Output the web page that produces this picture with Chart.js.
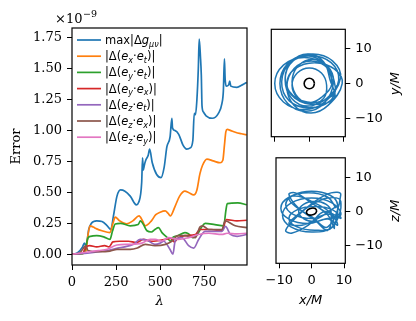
<!DOCTYPE html>
<html>
<head>
<meta charset="utf-8">
<script src="https://cdn.jsdelivr.net/npm/chart.js@4.4.0/dist/chart.umd.min.js"></script>
<style>
html, body { margin: 0; padding: 0; background: #fff; }
#wrap { position: relative; width: 416px; height: 321px; overflow: hidden; }
canvas { position: absolute; }
</style>
</head>
<body>
<div id="wrap">
  <canvas id="graficaError" width="260" height="321" style="left:0;top:0"></canvas>
  <canvas id="graficaXY" width="156" height="150" style="left:260px;top:0"></canvas>
  <canvas id="graficaXZ" width="156" height="176" style="left:260px;top:145px"></canvas>
</div>
<script>
// errors, in units of 1e-9, each series with its own lambda samples
const lamG = [0,30,60,70,80,95,110,140,170,200,220,235,255,275,300,330,365,378,395,400,404,410,418,432,440,455,480,505,522,538,556,566,570,585,605,630,650,670,685,693,700,708,716,721,728,733,737,745,760,795,830,850,858,864,868,874,888,894,900,935,965,990];
const errG = [0,0.01,0.06,0.09,0.07,0.2,0.25,0.27,0.265,0.23,0.2,0.31,0.47,0.52,0.51,0.47,0.40,0.42,0.58,0.78,0.68,0.72,0.76,0.80,0.85,0.74,0.645,0.62,0.70,0.87,0.95,1.10,1.02,1.0,0.97,0.88,0.85,0.86,0.92,1.14,1.13,1.25,1.50,1.74,1.60,1.45,1.20,1.15,1.12,1.10,1.14,1.22,1.32,1.58,1.42,1.36,1.37,1.40,1.36,1.35,1.37,1.39];

const lamA = [0,60,80,90,102,120,140,170,215,232,245,270,310,345,380,400,415,450,475,500,528,545,557,585,610,640,660,690,708,725,740,765,800,840,855,864,872,880,900,930,960,990];
const errA = [0,0.005,0.03,0.15,0.23,0.22,0.205,0.19,0.175,0.25,0.30,0.27,0.245,0.27,0.31,0.27,0.23,0.27,0.32,0.34,0.35,0.33,0.31,0.39,0.47,0.51,0.50,0.48,0.52,0.65,0.72,0.77,0.755,0.74,0.76,0.88,0.99,1.01,1.0,0.985,0.975,0.965];

const lamB = [0,60,75,90,105,140,180,215,230,245,275,330,375,388,405,425,450,470,490,510,540,557,575,600,640,660,685,710,735,755,810,860,872,880,940,990];
const errB = [0,0.005,0.04,0.13,0.145,0.15,0.14,0.12,0.19,0.245,0.25,0.23,0.24,0.27,0.24,0.19,0.18,0.20,0.215,0.175,0.135,0.105,0.14,0.15,0.175,0.165,0.135,0.16,0.22,0.25,0.24,0.23,0.35,0.41,0.415,0.40];

const lamC = [0,60,80,100,140,185,210,232,270,320,365,405,450,475,530,560,580,600,640,700,725,790,850,875,935,990];
const errC = [0,0.01,0.06,0.07,0.06,0.07,0.06,0.10,0.105,0.105,0.094,0.12,0.105,0.107,0.12,0.13,0.10,0.13,0.15,0.16,0.20,0.20,0.19,0.28,0.27,0.275];

const lamE = [0,100,200,260,300,348,386,424,470,500,520,555,572,585,623,661,690,718,755,850,870,898,936,990];
const errE = [0,0.01,0.03,0.05,0.06,0.08,0.12,0.115,0.08,0.09,0.105,0.04,0.0,0.11,0.135,0.07,0.05,0.12,0.185,0.185,0.225,0.16,0.145,0.16];

const lamD = [0,45,70,78,90,150,215,255,330,370,415,470,530,566,600,640,700,725,740,775,850,868,925,990];
const errD = [0,0.013,0.06,0.07,0.03,0.02,0.025,0.04,0.04,0.05,0.08,0.07,0.08,0.105,0.15,0.15,0.135,0.22,0.23,0.20,0.20,0.27,0.23,0.215];

const lamF = [0,100,150,200,254,330,396,443,472,509,547,604,661,718,775,850,879,935,990];
const errF = [0,0.02,0.03,0.04,0.075,0.08,0.09,0.12,0.12,0.107,0.135,0.12,0.135,0.16,0.17,0.16,0.17,0.165,0.17];

const errXTicks = [0, 250, 500, 750];
const errYTicks = [0, 0.25, 0.5, 0.75, 1.0, 1.25, 1.5, 1.75];
const orbitTicks = [-10, 0, 10];

// orbit, x/M and y/M
const orbitXY = [
  [7,0],[4.5,5.3],[-1.5,7.5],[-7.5,5.3],[-10,0],[-7.5,-5.3],[-1.5,-7.5],[4.5,-5.3],
  [9,1.5],[6.7,6.5],[1,8.5],[-4.7,6.5],[-7,1.5],[-4.7,-3.5],[1,-5.5],[6.7,-3.5],
  [7.5,-1],[5.4,4.3],[0.5,6.5],[-4.4,4.3],[-6.5,-1],[-4.4,-6.3],[0.5,-8.5],[5.4,-6.3],
  [9.5,0],[7.2,4.2],[1.5,6],[-4.2,4.2],[-6.5,0],[-4.2,-4.2],[1.5,-6],[7.2,-4.2],
  [6,1],[4.1,6.3],[-0.5,8.5],[-5.1,6.3],[-7,1],[-5.1,-4.3],[-0.5,-6.5],[4.1,-4.3],
  [5,-0.5],[3.5,3],[0,4.5],[-3.5,3],[-5,-0.5],[-3.5,-4],[0,-5.5],[3.5,-4],
  [6.5,0],[4.3,5.7],[-1,8],[-6.3,5.7],[-8.5,0],[-6.3,-5.7],[-1,-8],[4.3,-5.7],
  [7,0.5],[5.2,5.1],[1,7],[-3.2,5.1],[-5,0.5],[-3.2,-4.1],[1,-6],[5.2,-4.1],
  [8.5,1],[6.3,6],[0.5,8],[-5.5,6],[-8,0.5],[-5.8,-5],[0,-7],[6,-5],[8,-0.5]
];
// orbit, x/M and z/M
const orbitXZ = [
  [7.5,1],[5,4.2],[-1,5.5],[-7,4.2],[-9.5,1],[-7,-2.2],[-1,-3.5],[5,-2.2],
  [8,-4],[6,-0.5],[1,2.5],[-4,4.5],[-7,4],[-5,1.5],[0,-1.5],[5,-4.5],
  [9,5],[6,5.5],[1,3],[-4,-1],[-8,-5.5],[-6,-6.3],[-1,-4],[4,0],
  [9,-2],[6.5,0.5],[1,1.5],[-4.5,0.5],[-7,-2],[-4.5,-4.5],[1,-5.5],[6.5,-4.5],
  [8,2],[5.7,4.8],[0,6],[-5.7,4.8],[-8,2],[-5.7,-0.8],[0,-2],[5.7,-0.8],
  [7,-5],[5,-1],[0,2.5],[-5,5.5],[-7,5],[-4,1],[1,-2.5],[5,-5.5],
  [6,0],[4.5,2.1],[1,3],[-2.5,2.1],[-4,0],[-2.5,-2.1],[1,-3],[4.5,-2.1],
  [9,-1],[6.4,2.5],[0,4],[-6.4,2.5],[-9,-1],[-6.4,-4.5],[0,-6],[6.4,-4.5],
  [9,3],[5,4],[0,2],[-5,-1.5],[-7,-3.5],[-3,-4],[2,-2],[6,0.5],[8.5,2]
];
const ringXY = [[1.5,0],[1.06,1.06],[0,1.5],[-1.06,1.06],[-1.5,0],[-1.06,-1.06],[0,-1.5],[1.06,-1.06],[1.5,0]];
const ringXZ = [[1.6,0.2],[1.1,0.9],[0,1],[-1.1,0.6],[-1.6,-0.2],[-1.1,-0.9],[0,-1],[1.1,-0.6],[1.6,0.2]];

const colores = ['#1f77b4','#ff7f0e','#2ca02c','#d62728','#9467bd','#8c564b','#e377c2'];
const series = [[lamG,errG],[lamA,errA],[lamB,errB],[lamC,errC],[lamE,errE],[lamD,errD],[lamF,errF]];
// legend text pieces: 0 normal, 1 italic, 2 italic subscript
const etiquetas = [
  [['max|Δ',0],['g',1],['μν',2],['|',0]],
  [['|Δ(',0],['e',1],['x',2],['·',0],['e',1],['t',2],[')|',0]],
  [['|Δ(',0],['e',1],['y',2],['·',0],['e',1],['t',2],[')|',0]],
  [['|Δ(',0],['e',1],['y',2],['·',0],['e',1],['x',2],[')|',0]],
  [['|Δ(',0],['e',1],['z',2],['·',0],['e',1],['t',2],[')|',0]],
  [['|Δ(',0],['e',1],['z',2],['·',0],['e',1],['x',2],[')|',0]],
  [['|Δ(',0],['e',1],['z',2],['·',0],['e',1],['y',2],[')|',0]]
];

const SERIF = '"DejaVu Serif", serif';
const SANS = '"DejaVu Sans", sans-serif';

function toPoints(xs, ys) {
  return xs.map((x, i) => ({x: x, y: ys[i]}));
}
function pairs(list) {
  return list.map(p => ({x: p[0], y: p[1]}));
}
function menos(v) {
  return String(v).replace('-', '\u2212');
}

const marco = {
  id: 'marco',
  afterDatasetsDraw(chart) {
    const a = chart.chartArea, c = chart.ctx;
    c.save();
    c.strokeStyle = '#000';
    c.lineWidth = 1.2;
    c.strokeRect(a.left, a.top, a.right - a.left, a.bottom - a.top);
    c.restore();
  }
};

const leyenda = {
  id: 'leyenda',
  afterDraw(chart) {
    const c = chart.ctx;
    c.save();
    c.textBaseline = 'alphabetic';
    c.fillStyle = '#000';
    for (let i = 0; i < etiquetas.length; i++) {
      const y = 40 + i * 16.2;
      c.strokeStyle = colores[i];
      c.lineWidth = 1.7;
      c.beginPath();
      c.moveTo(77, y);
      c.lineTo(101, y);
      c.stroke();
      let x = 105;
      for (const [txt, st] of etiquetas[i]) {
        if (st == 2) {
          c.font = 'italic 8px ' + SANS;
          c.fillText(txt, x, y + 6.5);
        } else {
          c.font = (st == 1 ? 'italic ' : '') + '11.5px ' + SANS;
          c.fillText(txt, x, y + 4);
        }
        x += c.measureText(txt).width;
      }
    }
    // offset text of the y axis
    c.font = '13px ' + SERIF;
    c.fillText('\u00d710', 55, 22.5);
    const w = c.measureText('\u00d710').width;
    c.font = '9.5px ' + SERIF;
    c.fillText('\u22129', 55 + w + 0.5, 16.5);
    c.restore();
  }
};

function tituloLado(texto, x, y) {
  return {
    id: 'titulo' + texto.replace('/', ''),
    afterDraw(chart) {
      const c = chart.ctx;
      c.save();
      c.translate(x, y);
      c.rotate(-Math.PI / 2);
      c.font = 'italic 13px ' + SANS;
      c.textAlign = 'center';
      c.textBaseline = 'middle';
      c.fillStyle = '#000';
      c.fillText(texto, 0, 0);
      c.restore();
    }
  };
}

function ejeTicks(lista) {
  return function (scale) { scale.ticks = lista.map(v => ({value: v})); };
}
const gridTicks = {display: true, drawOnChartArea: false, drawTicks: true, tickLength: 5, color: '#000', lineWidth: 1};

function crearGraficaError() {
  const datasets = series.map((s, i) => ({
    data: toPoints(s[0], s[1]),
    borderColor: colores[i],
    borderWidth: 1.7,
    pointRadius: 0,
    showLine: true,
    cubicInterpolationMode: 'monotone',
    order: series.length - i
  }));
  return new Chart(document.getElementById('graficaError'), {
    type: 'scatter',
    data: {datasets: datasets},
    options: {
      responsive: false,
      animation: false,
      layout: {padding: {top: 28, right: 13, left: 0, bottom: 0}},
      plugins: {legend: {display: false}, tooltip: {enabled: false}},
      scales: {
        x: {
          type: 'linear', min: 0, max: 992,
          afterBuildTicks: ejeTicks(errXTicks),
          afterFit: s => { s.height = 56; },
          grid: gridTicks,
          border: {display: false},
          ticks: {color: '#000', padding: 5, maxRotation: 0, font: {family: SERIF, size: 13}, callback: v => String(v)},
          title: {display: true, text: 'λ', color: '#000', font: {family: SERIF, size: 13, style: 'italic'}, padding: {top: 0, bottom: 12}}
        },
        y: {
          type: 'linear', min: -0.087, max: 1.83,
          afterBuildTicks: ejeTicks(errYTicks),
          afterFit: s => { s.width = 72; },
          grid: gridTicks,
          border: {display: false},
          ticks: {color: '#000', padding: 5, font: {family: SERIF, size: 13}, callback: v => v.toFixed(2)},
          title: {display: true, text: 'Error', color: '#000', font: {family: SERIF, size: 13}, padding: {top: 9, bottom: 0}}
        }
      }
    },
    plugins: [marco, leyenda]
  });
}

function crearOrbita(id, orbita, anillo, yMin, yMax, padTop, alto, conEtiquetasX, tituloY, tituloYpos) {
  return new Chart(document.getElementById(id), {
    type: 'scatter',
    data: {
      datasets: [
        {data: pairs(orbita), borderColor: '#1f77b4', borderWidth: 1.5, pointRadius: 0, showLine: true, tension: 0.4, order: 2},
        {data: pairs(anillo), borderColor: '#000', borderWidth: 1.6, pointRadius: 0, showLine: true, tension: 0.4, order: 1}
      ]
    },
    options: {
      responsive: false,
      animation: false,
      layout: {padding: {top: padTop, left: 11.3, right: 0, bottom: 0}},
      plugins: {legend: {display: false}, tooltip: {enabled: false}},
      scales: {
        x: {
          type: 'linear', min: -11, max: 10.4,
          afterBuildTicks: ejeTicks(orbitTicks),
          afterFit: s => { s.height = alto; },
          grid: gridTicks,
          border: {display: false},
          ticks: {display: conEtiquetasX, color: '#000', padding: 5, maxRotation: 0, font: {family: SANS, size: 13}, callback: v => menos(v)},
          title: {display: conEtiquetasX, text: 'x/M', color: '#000', font: {family: SANS, size: 13, style: 'italic'}, padding: {top: 0, bottom: 13}}
        },
        y: {
          type: 'linear', position: 'right', min: yMin, max: yMax,
          afterBuildTicks: ejeTicks(orbitTicks),
          afterFit: s => { s.width = 70.7; },
          grid: gridTicks,
          border: {display: false},
          ticks: {color: '#000', padding: 5, font: {family: SANS, size: 13}, callback: v => menos(v)}
        }
      }
    },
    plugins: [marco, tituloLado(tituloY, 136, tituloYpos)]
  });
}

crearGraficaError();
crearOrbita('graficaXY', orbitXY, ringXY, -15.3, 15.6, 29.3, 13.3, false, 'y/M', 83.7);
crearOrbita('graficaXZ', orbitXZ, ringXZ, -15.2, 15.8, 11, 57.7, true, 'z/M', 65.7);
</script>
</body>
</html>
